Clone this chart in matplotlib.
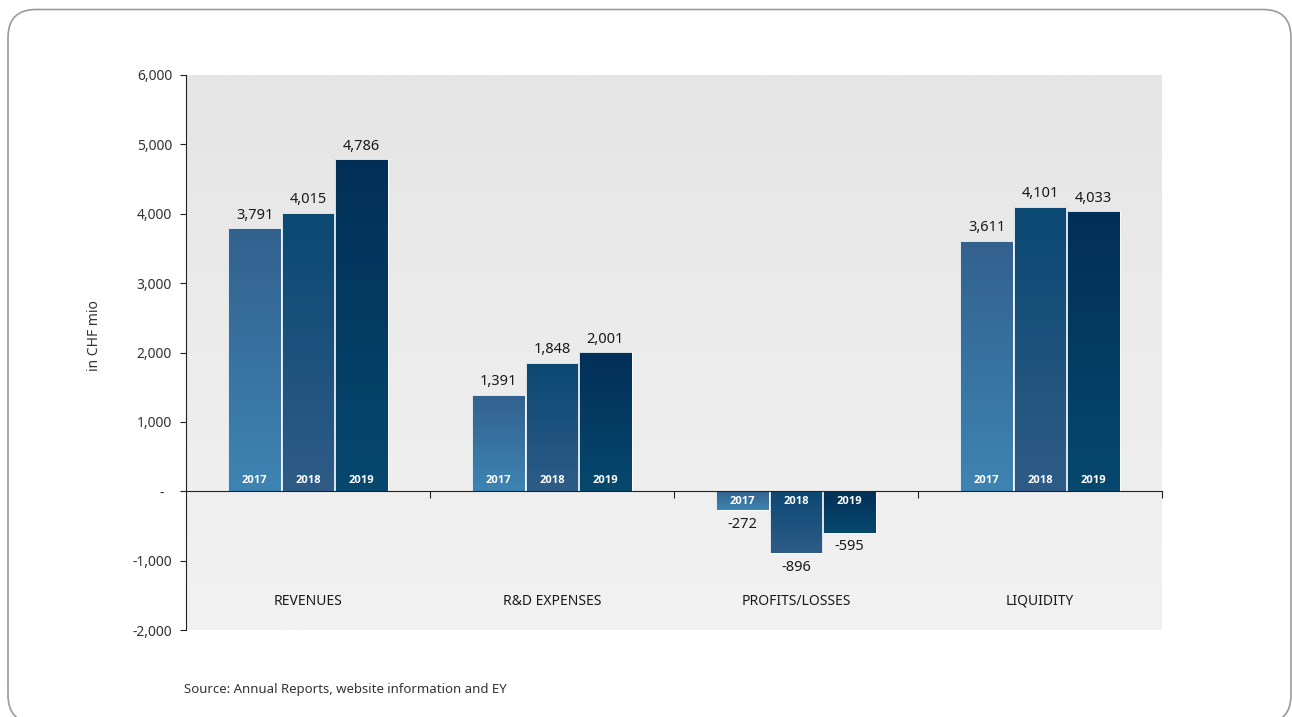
import matplotlib
matplotlib.use('Agg')
import matplotlib.pyplot as plt
import numpy as np
from matplotlib.colors import LinearSegmentedColormap
from matplotlib.patches import FancyBboxPatch
from matplotlib.transforms import IdentityTransform, blended_transform_factory

plt.rcParams['font.family'] = ['Noto Sans', 'DejaVu Sans']

categories = ['REVENUES', 'R&D EXPENSES', 'PROFITS/LOSSES', 'LIQUIDITY']
years = ['2017', '2018', '2019']
values = {
    '2017': [3791, 1391, -272, 3611],
    '2018': [4015, 1848, -896, 4101],
    '2019': [4786, 2001, -595, 4033],
}
yticks = [-2000, -1000, 0, 1000, 2000, 3000, 4000, 5000, 6000]
ytick_labels = ['-2,000', '-1,000', '-  ', '1,000', '2,000', '3,000', '4,000', '5,000', '6,000']
source = 'Source: Annual Reports, website information and EY'

# (bottom colour, top colour) for each year's gradient
bar_colors = {
    '2017': ('#3e84b2', '#33618e'),
    '2018': ('#2e5c87', '#0b4872'),
    '2019': ('#07486f', '#022f57'),
}

fig = plt.figure(figsize=(12.92, 7.17), dpi=100)
ax = fig.add_axes([186 / 1292, 1 - 630 / 717, 976 / 1292, 555 / 717])

# grey backdrop
bg = LinearSegmentedColormap.from_list('bg', ['#f2f2f2', '#ececec', '#e5e5e5'])
ax.imshow(np.linspace(0, 1, 256).reshape(-1, 1), cmap=bg, origin='lower',
          extent=(0, 1, 0, 1), transform=ax.transAxes, aspect='auto', zorder=0)

x = np.arange(len(categories))
width = 0.216
offsets = [-0.218, 0, 0.218]
grad = np.linspace(0, 1, 256).reshape(-1, 1)
year_font = dict(fontsize=8, fontweight='bold', color='white', zorder=5,
                 family=['Open Sans', 'DejaVu Sans'])

for yr, off in zip(years, offsets):
    bars = ax.bar(x + off, values[yr], width, color='none', edgecolor='white',
                  linewidth=0.6, zorder=3)
    cmap = LinearSegmentedColormap.from_list('c' + yr, bar_colors[yr])
    for bar, v in zip(bars, values[yr]):
        bx, by = bar.get_x(), bar.get_y()
        bw, bh = bar.get_width(), bar.get_height()
        y0, y1 = min(by, by + bh), max(by, by + bh)
        im = ax.imshow(grad, cmap=cmap, origin='lower', aspect='auto',
                       extent=(bx, bx + bw, y0, y1), zorder=2)
        im.set_clip_path(bar)
        cx = bx + bw / 2
        # value label and year label
        if v >= 0:
            ax.annotate(f'{v:,}', (cx, v), xytext=(0, 4), textcoords='offset points',
                        ha='center', va='bottom', fontsize=10.5, color='#1a1a1a')
            ax.annotate(yr, (cx, 0), xytext=(0, 8), textcoords='offset points',
                        ha='center', va='center', **year_font)
        else:
            ax.annotate(f'{v:,}', (cx, v), xytext=(0, -5), textcoords='offset points',
                        ha='center', va='top', fontsize=10.5, color='#1a1a1a')
            ax.annotate(yr, (cx, 0), xytext=(0, -7.5), textcoords='offset points',
                        ha='center', va='center', **year_font)

# category names
trans = blended_transform_factory(ax.transData, ax.transAxes)
for i, c in enumerate(categories):
    ax.text(i, 0.052, c, transform=trans, ha='center', va='center',
            fontsize=10, color='#1a1a1a')

ax.set_xlim(-0.5, 3.5)
ax.set_ylim(-2000, 6000)
ax.set_yticks(yticks)
ax.set_yticklabels(ytick_labels)
ax.tick_params(axis='y', length=4, width=0.8, color='#222222', labelsize=10,
               labelcolor='#333333', pad=6)
ax.set_xticks([0.5, 1.5, 2.5, 3.5])
ax.set_xticklabels([])
ax.tick_params(axis='x', length=5, width=0.8, color='#222222', direction='out')

for s in ['top', 'right']:
    ax.spines[s].set_visible(False)
ax.spines['bottom'].set_position(('data', 0))
ax.spines['bottom'].set_color('#222222')
ax.spines['left'].set_color('#222222')
ax.spines['bottom'].set_zorder(4)

ax.set_ylabel('in CHF mio', fontsize=10, color='#333333')
ax.yaxis.set_label_coords(-0.086, 0.53)

fig.text(184 / 1292, 1 - 690 / 717, source, ha='left', va='center',
         fontsize=9.5, color='#333333')

# rounded outer frame
frame = FancyBboxPatch((8, -6), 1283, 713.5, boxstyle='round,pad=0,rounding_size=28',
                       transform=IdentityTransform(), facecolor='none',
                       edgecolor='#9a9a9a', linewidth=1.2)
fig.patches.append(frame)

fig.savefig('out.png', dpi=100)
